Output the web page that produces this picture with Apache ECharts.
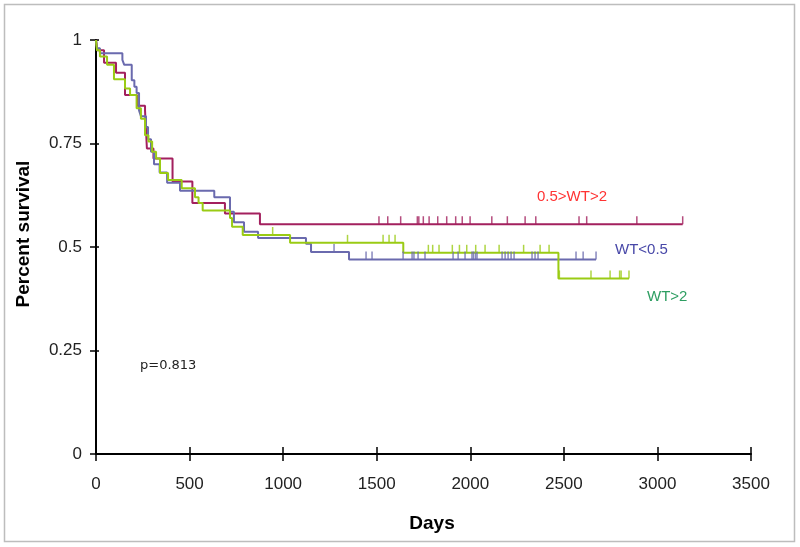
<!DOCTYPE html>
<html><head><meta charset="utf-8">
<script src="https://cdn.jsdelivr.net/npm/echarts@6/dist/echarts.min.js"></script>
<style>html,body{margin:0;padding:0;background:#fff}#c{width:800px;height:547px}</style>
</head><body><div id="c"></div>
<script>
// ---- Data ----
const xTicks = [0, 500, 1000, 1500, 2000, 2500, 3000, 3500];
const yTicks = [0, 0.25, 0.5, 0.75, 1];

// 0.5>WT>2 (red)
const midDays = [0, 8, 43, 107, 155, 219, 262, 272, 307, 409, 515, 689, 876, 3135];
const midSurv = [1.0, 0.975, 0.945, 0.921, 0.867, 0.841, 0.83, 0.738, 0.714, 0.658, 0.606, 0.581, 0.555, 0.555];
const midCensor = [1512, 1559, 1628, 1717, 1725, 1749, 1780, 1826, 1874, 1922, 1957, 1999, 2115, 2198, 2293, 2350, 2581, 2622, 2890, 3135];

// WT<0.5 (blue)
const lowDays = [0, 5, 21, 141, 151, 191, 205, 217, 230, 240, 267, 278, 294, 310, 340, 380, 449, 632, 716, 737, 791, 866, 1122, 1149, 1352, 2672];
const lowSurv = [1.0, 0.98, 0.968, 0.952, 0.94, 0.903, 0.887, 0.872, 0.83, 0.816, 0.79, 0.76, 0.73, 0.70, 0.68, 0.655, 0.636, 0.62, 0.585, 0.56, 0.537, 0.522, 0.508, 0.488, 0.47, 0.47];
const lowCensor = [1272, 1443, 1475, 1641, 1689, 1699, 1721, 1758, 1908, 1935, 1972, 2009, 2017, 2028, 2036, 2170, 2186, 2202, 2218, 2234, 2330, 2346, 2362, 2565, 2603, 2672];

// WT>2 (green)
const highDays = [0, 5, 21, 59, 96, 155, 182, 217, 240, 262, 280, 300, 321, 342, 385, 458, 529, 548, 570, 716, 727, 784, 1037, 1642, 2471, 2848];
const highSurv = [1.0, 0.975, 0.96, 0.94, 0.905, 0.883, 0.867, 0.835, 0.81, 0.77, 0.755, 0.73, 0.714, 0.679, 0.662, 0.642, 0.62, 0.606, 0.588, 0.57, 0.549, 0.529, 0.51, 0.486, 0.424, 0.424];
const highCensor = [944, 1344, 1534, 1566, 1598, 1776, 1799, 1833, 1904, 1942, 1981, 2029, 2079, 2154, 2285, 2373, 2421, 2476, 2645, 2747, 2798, 2806, 2848];

const groupNames = ['0.5>WT>2', 'WT<0.5', 'WT>2'];
const pValueText = 'p=0.813';

// ---- Helpers ----
function pairs(days, surv) { return days.map((d, i) => [d, surv[i]]); }
function survAt(days, surv, d) {
  let v = surv[0];
  for (let i = 0; i < days.length; i++) { if (days[i] <= d) v = surv[i]; }
  return v;
}
function censorPts(cens, days, surv) { return cens.map(d => [d, survAt(days, surv, d)]); }

const cRed = '#A3205E', cBlue = '#6A6AAE', cGreen = '#9ACB14';

function stepSeries(name, data, color) {
  return { name, type: 'line', step: 'end', data, showSymbol: false, symbol: 'none',
    lineStyle: { color, width: 2 }, animation: false, z: 3 };
}
function censorSeries(name, data, color) {
  return { name: name + ' censored', type: 'scatter', data, symbol: 'rect',
    symbolSize: [1.5, 8], symbolOffset: [0, -4], itemStyle: { color }, animation: false, z: 4 };
}

const chart = echarts.init(document.getElementById('c'), null, { renderer: 'canvas' });
const axisFont = 'Liberation Sans, Arial, sans-serif';
const plain = v => String(v);
chart.setOption({
  animation: false,
  backgroundColor: '#fff',
  grid: { left: 96, right: 49, top: 40, bottom: 93, containLabel: false, outerBoundsMode: 'none' },
  xAxis: [
    { type: 'value', min: xTicks[0], max: xTicks[xTicks.length - 1], interval: 500, position: 'bottom',
      axisLine: { show: true, onZero: false, lineStyle: { color: '#000', width: 2 } },
      axisTick: { show: true, inside: false, length: 7, lineStyle: { color: '#000', width: 1.5 } },
      axisLabel: { show: true, margin: 22, color: '#222', fontSize: 17, fontFamily: axisFont, formatter: plain },
      splitLine: { show: false } },
    { type: 'value', min: xTicks[0], max: xTicks[xTicks.length - 1], interval: 500, position: 'bottom',
      axisLine: { show: false, onZero: false }, axisLabel: { show: false },
      axisTick: { show: true, inside: true, length: 7, lineStyle: { color: '#000', width: 1.5 } },
      splitLine: { show: false } }
  ],
  yAxis: [
    { type: 'value', min: yTicks[0], max: yTicks[yTicks.length - 1], interval: 0.25, position: 'left',
      axisLine: { show: true, onZero: false, lineStyle: { color: '#000', width: 2 } },
      axisTick: { show: true, inside: false, length: 6, lineStyle: { color: '#000', width: 1.5 } },
      axisLabel: { show: true, margin: 14, color: '#222', fontSize: 17, fontFamily: axisFont, formatter: plain },
      splitLine: { show: false } },
    { type: 'value', min: yTicks[0], max: yTicks[yTicks.length - 1], interval: 0.25, position: 'left',
      axisLine: { show: false, onZero: false }, axisLabel: { show: false },
      axisTick: { show: true, inside: true, length: 3, lineStyle: { color: '#000', width: 1.5 } },
      splitLine: { show: false } }
  ],
  series: [
    stepSeries(groupNames[0], pairs(midDays, midSurv), cRed),
    stepSeries(groupNames[1], pairs(lowDays, lowSurv), cBlue),
    stepSeries(groupNames[2], pairs(highDays, highSurv), cGreen),
    censorSeries(groupNames[0], censorPts(midCensor, midDays, midSurv), cRed),
    censorSeries(groupNames[1], censorPts(lowCensor, lowDays, lowSurv), cBlue),
    censorSeries(groupNames[2], censorPts(highCensor, highDays, highSurv), cGreen),
    // invisible carrier so the secondary (inner-tick) axes are active
    { name: 'tick carrier', type: 'line', xAxisIndex: 1, yAxisIndex: 1, data: pairs(midDays, midSurv),
      symbol: 'none', lineStyle: { opacity: 0, width: 0 }, silent: true, animation: false, z: 1 }
  ],
  graphic: [
    { type: 'rect', shape: { x: 4.5, y: 4.5, width: 790, height: 537 }, silent: true, z: 0,
      style: { fill: 'none', stroke: '#bdbdbd', lineWidth: 1.5 } },
    { type: 'text', x: 24, y: 234, rotation: Math.PI / 2, z: 10,
      style: { text: 'Percent survival', fill: '#000', font: 'bold 19px Liberation Sans, Arial, sans-serif',
        textAlign: 'center', textVerticalAlign: 'middle' } },
    { type: 'text', x: 432, y: 524, z: 10,
      style: { text: 'Days', fill: '#000', font: 'bold 19px Liberation Sans, Arial, sans-serif',
        textAlign: 'center', textVerticalAlign: 'middle' } },
    { type: 'text', x: 140, y: 366, z: 10,
      style: { text: pValueText, fill: '#222', font: '13px DejaVu Sans, sans-serif',
        textAlign: 'left', textVerticalAlign: 'middle' } },
    { type: 'text', x: 537, y: 197, z: 10,
      style: { text: groupNames[0], fill: '#FF3333', font: '15px Liberation Sans, Arial, sans-serif',
        textAlign: 'left', textVerticalAlign: 'middle' } },
    { type: 'text', x: 615, y: 250, z: 10,
      style: { text: groupNames[1], fill: '#4848A8', font: '15px Liberation Sans, Arial, sans-serif',
        textAlign: 'left', textVerticalAlign: 'middle' } },
    { type: 'rect', shape: { x: 610, y: 254, width: 70, height: 8 }, z: 11, silent: true,
      style: { fill: '#fff' } },
    { type: 'text', x: 647, y: 297, z: 10,
      style: { text: groupNames[2], fill: '#2E9E62', font: '15px Liberation Sans, Arial, sans-serif',
        textAlign: 'left', textVerticalAlign: 'middle' } }
  ]
});
</script>
</body></html>
